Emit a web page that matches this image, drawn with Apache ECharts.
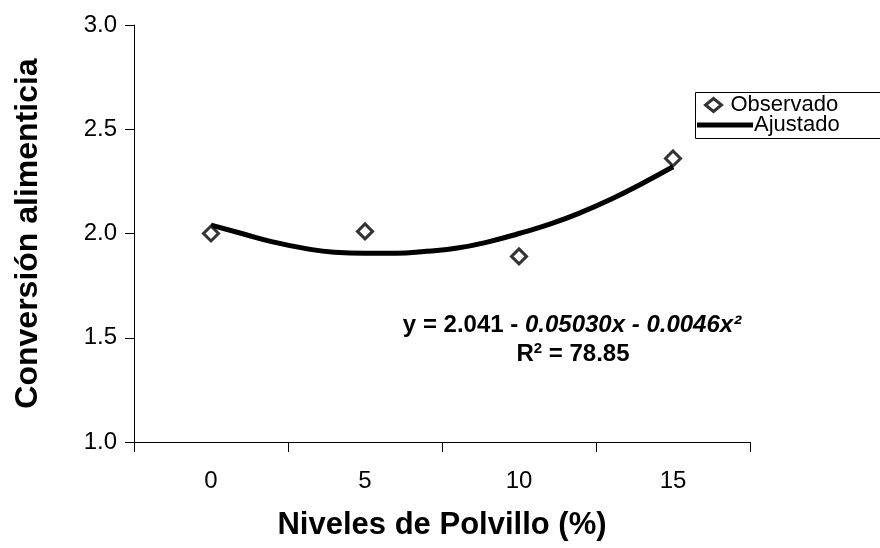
<!DOCTYPE html>
<html>
<head>
<meta charset="utf-8">
<script src="https://cdn.jsdelivr.net/npm/echarts@6/dist/echarts.min.js"></script>
<style>html,body{margin:0;padding:0;background:#fff;}#c{width:880px;height:548px;}</style>
</head>
<body>
<div id="c"></div>
<script>
// Tick labels / categories
const xCategories = ['0', '5', '10', '15'];
const obsX = [0, 5, 10, 15];
const obsY = [2.00, 2.01, 1.89, 2.36];
// Fitted curve values
const fitX = [0, 1, 2, 3, 4, 5, 6, 7, 8, 9, 10, 11, 12, 13, 14, 15];
const fitY = [2.04, 2.00, 1.96, 1.93, 1.91, 1.905, 1.905, 1.915, 1.93, 1.96, 2.00, 2.045, 2.10, 2.165, 2.24, 2.32];
const yTicks = [1.0, 1.5, 2.0, 2.5, 3.0];

const FONT = '"Liberation Sans", Arial, sans-serif';
const chart = echarts.init(document.getElementById('c'));
chart.setOption({
  animation: false,
  backgroundColor: '#fff',
  grid: { left: 134, right: 130, top: 25, bottom: 106 },
  xAxis: [
    {
      type: 'category', data: xCategories, boundaryGap: true,
      axisLine: { lineStyle: { color: '#000', width: 1 } },
      axisTick: { show: true, length: 10, lineStyle: { color: '#000' } },
      axisLabel: { color: '#000', fontSize: 24, fontFamily: FONT, margin: 27 },
      splitLine: { show: false },
      name: 'Niveles de Polvillo (%)', nameLocation: 'middle', nameGap: 68,
      nameTextStyle: { color: '#000', fontSize: 31, fontWeight: 'bold', fontFamily: FONT }
    },
    { type: 'value', min: -2.5, max: 17.5, show: false }
  ],
  yAxis: {
    type: 'value', min: yTicks[0], max: yTicks[yTicks.length - 1], interval: 0.5,
    axisLine: { show: true, onZero: false, lineStyle: { color: '#000', width: 1 } },
    axisTick: { show: true, length: 9, lineStyle: { color: '#000' } },
    axisLabel: { color: '#000', fontSize: 24, fontFamily: FONT, margin: 17, formatter: v => v.toFixed(1) },
    splitLine: { show: false },
    name: 'Conversión alimenticia', nameLocation: 'middle', nameGap: 90, nameRotate: 90,
    nameTextStyle: { color: '#000', fontSize: 32, fontWeight: 'bold', fontFamily: FONT }
  },
  legend: [
    {
      data: ['Observado'], left: 704, top: 94, orient: 'vertical',
      itemWidth: 16, itemHeight: 13, itemGap: 0, padding: 0,
      itemStyle: { color: '#fff', borderColor: '#000', borderWidth: 3 },
      textStyle: { color: '#000', fontSize: 22, fontFamily: FONT, padding: [0, 0, 0, 4] }
    },
    {
      data: [{ name: 'Ajustado', icon: 'rect' }], left: 697, top: 114, orient: 'vertical',
      itemWidth: 56, itemHeight: 5, itemGap: 0, padding: 0,
      itemStyle: { color: '#000', borderWidth: 0 },
      textStyle: { color: '#000', fontSize: 22, fontFamily: FONT, padding: [0, 0, 0, -4] }
    }
  ],
  graphic: [
    { type: 'rect', left: 693, top: 90, shape: { width: 200, height: 46 },
      style: { fill: 'none', stroke: '#000', lineWidth: 1 }, silent: true },
    { type: 'text', x: 572, y: 325,
      style: {
        text: '{n|y = 2.041 - }{i|0.05030x - 0.0046x²}',
        align: 'center', verticalAlign: 'middle',
        rich: {
          n: { fontSize: 24, fontWeight: 'bold', fontFamily: FONT, fill: '#000' },
          i: { fontSize: 24, fontWeight: 'bold', fontStyle: 'italic', fontFamily: FONT, fill: '#000' }
        }
      } },
    { type: 'text', x: 573, y: 354,
      style: {
        text: '{n|R}{s|2}{n| = 78.85}',
        align: 'center', verticalAlign: 'middle',
        rich: {
          n: { fontSize: 24, fontWeight: 'bold', fontFamily: FONT, fill: '#000', verticalAlign: 'bottom' },
          s: { fontSize: 15, fontWeight: 'bold', fontFamily: FONT, fill: '#000', verticalAlign: 'top', padding: [0, 0, 10, 0] }
        }
      } }
  ],
  series: [
    {
      name: 'Ajustado', type: 'line', xAxisIndex: 1, smooth: true, showSymbol: false,
      symbol: 'none',
      lineStyle: { color: '#000', width: 5 }, itemStyle: { color: '#000' },
      data: fitX.map((x, i) => [x, fitY[i]]), z: 2
    },
    {
      name: 'Observado', type: 'scatter', xAxisIndex: 1, symbol: 'diamond', symbolSize: 15,
      itemStyle: { color: '#fff', borderColor: '#000', borderWidth: 3 },
      data: obsX.map((x, i) => [x, obsY[i]]), z: 3
    }
  ]
});
</script>
</body>
</html>
